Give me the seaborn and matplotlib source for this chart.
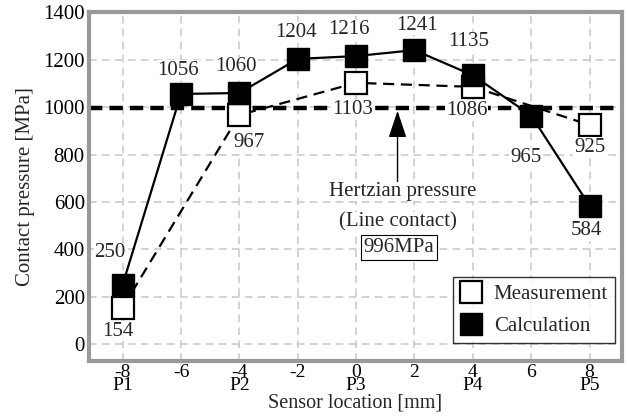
import matplotlib
matplotlib.use("Agg")
import matplotlib.pyplot as plt
from matplotlib.lines import Line2D
import pandas as pd
import seaborn as sns

# Sensor positions [mm] and pressures [MPa]
meas_x = [-8, -4, 0, 4, 8]
meas_p = [154, 967, 1103, 1086, 925]
calc_x = [-8, -6, -4, -2, 0, 2, 4, 6, 8]
calc_p = [250, 1056, 1060, 1204, 1216, 1241, 1135, 965, 584]

hertz_p = 996
x_ticks = [-8, -6, -4, -2, 0, 2, 4, 6, 8]
x_tick_labels = ["-8\nP1", "-6", "-4\nP2", "-2", "0\nP3", "2", "4\nP4", "6", "8\nP5"]
y_ticks = [0, 200, 400, 600, 800, 1000, 1200, 1400]

# value label offsets (points) relative to each marker
meas_off = [(-3.5, -17), (7, -20), (-2.5, -19.5), (-4.5, -17), (0, -16)]
calc_off = [(-9, 23), (-2, 17), (-2.5, 19), (-1, 19), (-5, 19), (2, 18), (-3, 24), (-4, -30), (-2.5, -18)]

sns.set_style("white")
plt.rcParams["font.family"] = ["Liberation Serif", "DejaVu Serif"]
plt.rcParams["axes.unicode_minus"] = False

fig = plt.figure(figsize=(6.27, 4.16), dpi=100)
ax = fig.add_axes([0.142, 0.133, 0.8495, 0.837])

df_meas = pd.DataFrame({"x": meas_x, "p": meas_p})
df_calc = pd.DataFrame({"x": calc_x, "p": calc_p})

ms = 15.5
sns.lineplot(data=df_meas, x="x", y="p", ax=ax, color="black", lw=1.6,
             marker="s", markersize=ms, markerfacecolor="white",
             markeredgecolor="black", markeredgewidth=1.6, zorder=3)
ax.lines[-1].set_dashes((5, 3))
sns.lineplot(data=df_calc, x="x", y="p", ax=ax, color="black", lw=1.6,
             marker="s", markersize=ms, markerfacecolor="black",
             markeredgecolor="black", markeredgewidth=1.0, zorder=4)

# Hertzian line-contact pressure
ax.axhline(hertz_p, color="black", lw=3.2, dashes=(3.0, 1.6), zorder=2.5)

fs = 15
lab_box = dict(facecolor="white", edgecolor="none", pad=0.5)
for x, p, (dx, dy) in zip(meas_x, meas_p, meas_off):
    ax.annotate(str(p), (x, p), xytext=(dx, dy), textcoords="offset points",
                ha="center", va="center", fontsize=fs, bbox=lab_box, zorder=5)
for x, p, (dx, dy) in zip(calc_x, calc_p, calc_off):
    ax.annotate(str(p), (x, p), xytext=(dx, dy), textcoords="offset points",
                ha="center", va="center", fontsize=fs, bbox=lab_box, zorder=5)

ax.annotate("", xy=(1.42, 985), xytext=(1.42, 668),
            arrowprops=dict(arrowstyle="-|>,head_length=1.2,head_width=0.4",
                            mutation_scale=14, lw=1.0, color="black",
                            shrinkA=0, shrinkB=0), zorder=5)
ax.text(1.59, 644, "Hertzian pressure", ha="center", va="center", fontsize=fs,
        bbox=dict(facecolor="white", edgecolor="none", pad=0.3), zorder=5)
ax.text(1.45, 516, "(Line contact)", ha="center", va="center", fontsize=fs,
        bbox=dict(facecolor="white", edgecolor="none", pad=0.3), zorder=5)
ax.text(1.47, 408, f"{hertz_p}MPa", ha="center", va="center", fontsize=fs,
        bbox=dict(facecolor="white", edgecolor="black", lw=0.8, pad=2.0), zorder=5)

ax.set_xlim(-9.15, 9.1)
ax.set_ylim(-70, 1400)
ax.set_xticks(x_ticks)
ax.set_xticklabels(x_tick_labels)
ax.set_yticks(y_ticks)
ax.tick_params(axis="both", length=0, labelsize=fs, colors="black")
ax.tick_params(axis="x", pad=2.5, labelsize=14)
ax.tick_params(axis="y", pad=3)

ax.grid(True, color="#c8c8c8", lw=1.1, dashes=(5, 3.5), zorder=0)
ax.set_axisbelow(True)
for s in ax.spines.values():
    s.set_visible(True)
    s.set_color("#999999")
    s.set_linewidth(3.0)

ax.set_xlabel("Sensor location [mm]", fontsize=14.5)
ax.set_ylabel("Contact pressure [MPa]", fontsize=fs)
ax.xaxis.set_label_coords(0.5, -0.094)
ax.yaxis.set_label_coords(-0.102, 0.5)

handles = [
    Line2D([], [], ls="none", marker="s", markersize=ms, markerfacecolor="white",
           markeredgecolor="black", markeredgewidth=1.6, label="Measurement"),
    Line2D([], [], ls="none", marker="s", markersize=ms, markerfacecolor="black",
           markeredgecolor="black", label="Calculation"),
]
leg = ax.legend(handles=handles, loc="lower right", bbox_to_anchor=(0.988, 0.05),
                borderaxespad=0, frameon=True, fancybox=False, fontsize=fs,
                handlelength=1.0, handletextpad=0.6, labelspacing=0.6,
                borderpad=0.35)
leg.get_frame().set_edgecolor("black")
leg.get_frame().set_linewidth(1.0)
leg.set_zorder(6)

# tighten the two-line sensor labels
fig.canvas.draw()
for lbl in ax.get_xticklabels():
    lbl.set_linespacing(0.66)

fig.savefig("out.png", dpi=100)
